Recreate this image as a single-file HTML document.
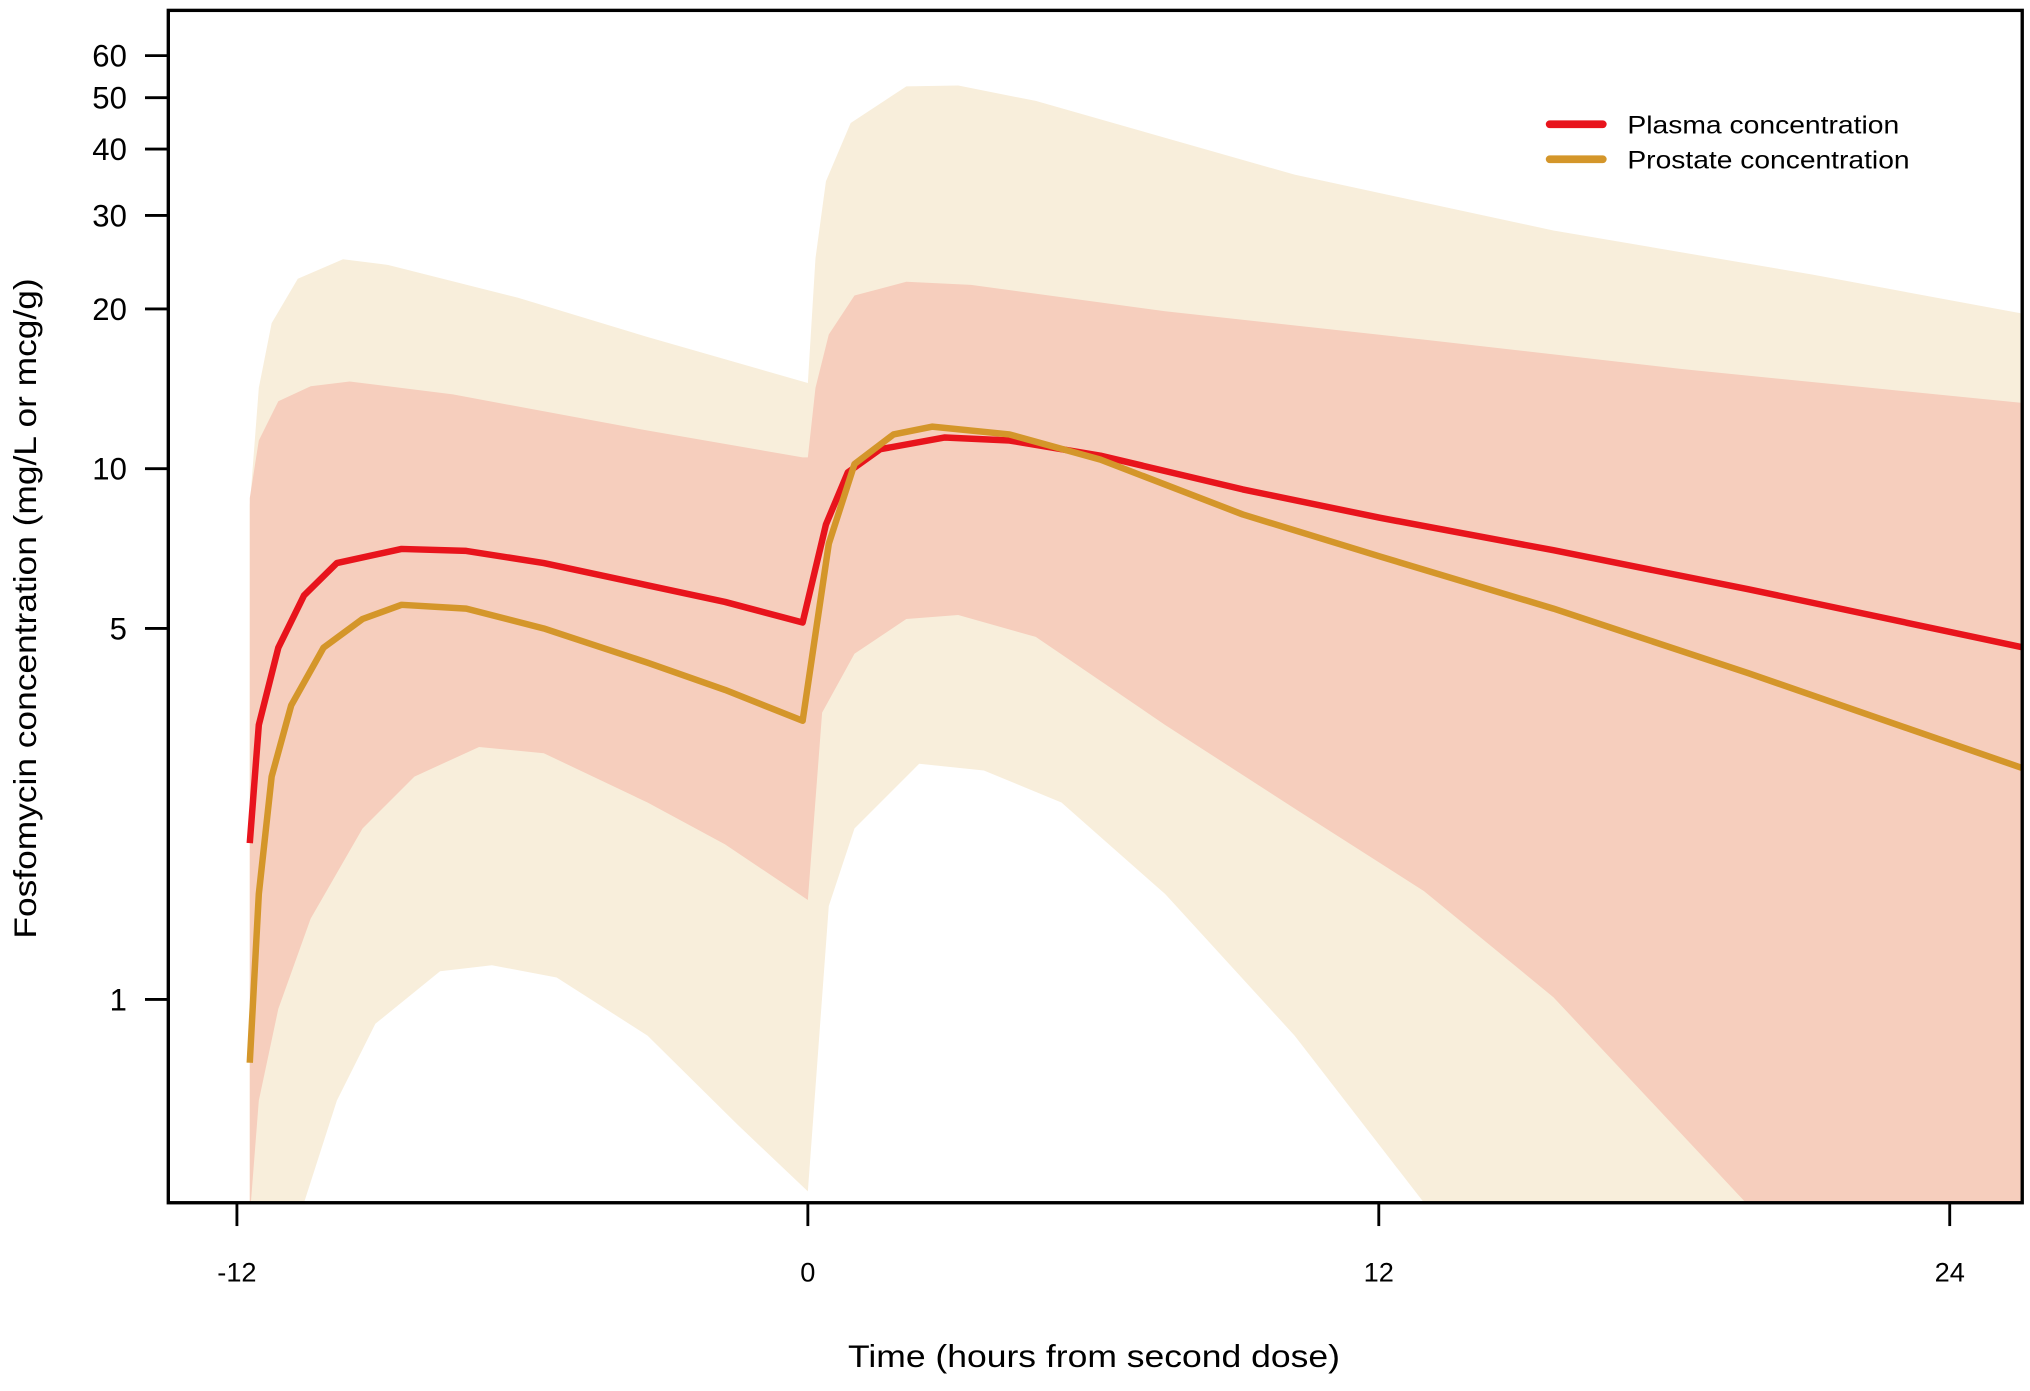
<!DOCTYPE html>
<html><head><meta charset="utf-8"><style>
html,body{margin:0;padding:0;background:#fff;width:2030px;height:1391px;overflow:hidden;}
svg{display:block;overflow:hidden;}
text{font-family:"Liberation Sans",sans-serif;fill:#000;}
</style></head><body>
<svg id="chart" width="2030" height="1391" viewBox="0 0 1568 1074.4" xmlns="http://www.w3.org/2000/svg">
<defs><clipPath id="pc"><rect x="130" y="8" width="1432" height="921"/></clipPath></defs>
<g id="bands" clip-path="url(#pc)"></g>
<g id="lines" clip-path="url(#pc)"></g>
<rect x="130" y="8" width="1432" height="921" fill="none" stroke="#000" stroke-width="2.6"/>
<g id="yaxis"></g>
<g id="xaxis"></g>
<text x="28" y="470" transform="rotate(-90 28 470)" text-anchor="middle" font-size="24" textLength="510" lengthAdjust="spacingAndGlyphs">Fosfomycin concentration (mg/L or mcg/g)</text>
<text x="845" y="1056" text-anchor="middle" font-size="24" textLength="380" lengthAdjust="spacingAndGlyphs">Time (hours from second dose)</text>
<g>
<line x1="1197" y1="96" x2="1238" y2="96" stroke="#e8141c" stroke-width="6" stroke-linecap="round"/>
<text x="1257" y="103" font-size="19" textLength="210" lengthAdjust="spacingAndGlyphs">Plasma concentration</text>
<line x1="1197" y1="123" x2="1238" y2="123" stroke="#d4962a" stroke-width="6" stroke-linecap="round"/>
<text x="1257" y="130" font-size="19" textLength="218" lengthAdjust="spacingAndGlyphs">Prostate concentration</text>
</g>
</svg>
<script>
const xTicks=[-12,0,12,24];
const yTicks=[1,5,10,20,30,40,50,60];
const plasmaT=[-11.73,-11.54,-11.13,-10.59,-9.9,-8.54,-7.18,-5.55,-3.37,-1.74,-0.11,0.38,0.84,1.52,2.88,4.24,6.15,9.14,12.03,15.67,19.76,25.52];
const plasmaV=[1.97,3.29,4.6,5.77,6.64,7.06,7.0,6.64,6.03,5.61,5.13,7.85,9.84,10.88,11.45,11.3,10.58,9.14,8.08,7.02,5.93,4.61];
const prostT=[-11.73,-11.54,-11.27,-10.86,-10.18,-9.36,-8.54,-7.18,-5.55,-3.37,-1.74,-0.11,0.44,0.98,1.8,2.61,4.24,6.15,9.14,12.03,15.67,19.76,25.52];
const prostV=[0.76,1.58,2.63,3.58,4.6,5.21,5.54,5.45,5.0,4.31,3.83,3.35,7.22,10.2,11.6,12.0,11.6,10.4,8.2,6.83,5.45,4.12,2.73];
const outerUpT=[-11.73,-11.54,-11.27,-10.72,-9.77,-8.82,-6.1,-3.37,0,0.16,0.38,0.9,2.07,3.16,4.79,10.23,15.67,21.12,25.52];
const outerUpV=[8.5,14.2,18.8,22.8,24.8,24.2,21.0,17.7,14.5,24.9,34.8,44.8,52.5,52.7,49.3,35.8,28.1,23.2,19.6];
const outerLoT=[-11.73,-10.59,-9.9,-9.09,-7.73,-6.64,-5.28,-3.37,-1.47,0,0.44,0.98,2.34,3.7,5.33,7.51,10.23,12.95,15.67,25.52];
const outerLoV=[0.36,0.414,0.645,0.9,1.13,1.16,1.10,0.855,0.58,0.435,1.5,2.1,2.78,2.7,2.35,1.58,0.855,0.414,0.36,0.36];
const innerUpT=[-11.73,-11.54,-11.13,-10.45,-9.63,-7.46,-3.37,-0.11,0,0.16,0.44,0.98,2.07,3.43,7.51,12.95,18.39,25.52];
const innerUpV=[8.8,11.3,13.4,14.3,14.6,13.8,11.8,10.5,10.5,14.2,17.9,21.2,22.5,22.2,19.8,17.5,15.4,13.3];
const innerLoT=[-11.73,-11.54,-11.13,-10.45,-9.36,-8.27,-6.91,-5.55,-3.37,-1.74,0,0.3,0.98,2.07,3.16,4.79,7.51,10.23,12.95,15.67,19.76,25.52];
const innerLoV=[0.36,0.645,0.96,1.42,2.1,2.63,2.99,2.91,2.35,1.96,1.54,3.47,4.48,5.21,5.3,4.82,3.29,2.29,1.6,1.01,0.41,0.36];
const NS='http://www.w3.org/2000/svg';
function xs(t){return 624+t*36.75;}
function ys(v){return Math.min(940,772-410*Math.log10(v));}
function mk(tag,attrs,parent){const e=document.createElementNS(NS,tag);for(const k in attrs)e.setAttribute(k,attrs[k]);parent.appendChild(e);return e;}
function pts(T,V){return T.map((t,i)=>xs(t).toFixed(2)+','+ys(V[i]).toFixed(2));}
const bands=document.getElementById('bands');
const ob=mk('polygon',{points:pts(outerUpT,outerUpV).concat(pts(outerLoT,outerLoV).reverse()).join(' '),fill:'#f8eedb'},bands);


const ib=mk('polygon',{points:pts(innerUpT,innerUpV).concat(pts(innerLoT,innerLoV).reverse()).join(' '),fill:'#f6cebd'},bands);


const lines=document.getElementById('lines');
const pl=mk('polyline',{points:pts(plasmaT,plasmaV).join(' '),fill:'none',stroke:'#e8141c','stroke-width':5,'stroke-linejoin':'round'},lines);


const pr=mk('polyline',{points:pts(prostT,prostV).join(' '),fill:'none',stroke:'#d4962a','stroke-width':5,'stroke-linejoin':'round'},lines);


const ya=document.getElementById('yaxis');
yTicks.forEach(v=>{const y=ys(v);
 const l=mk('line',{x1:112,x2:130,y1:y,y2:y,stroke:'#000','stroke-width':2.2},ya);
 
 
 const t=mk('text',{x:98,y:y+8.5,'text-anchor':'end','font-size':24},ya);t.textContent=v;
 
 
});
const xa=document.getElementById('xaxis');
xTicks.forEach(v=>{const x=xs(v);
 const l=mk('line',{x1:x,x2:x,y1:929,y2:947,stroke:'#000','stroke-width':2.2},xa);
 
 
 const t=mk('text',{x:x,y:990,'text-anchor':'middle','font-size':21},xa);t.textContent=v;
 
 
});
</script>
</body></html>
